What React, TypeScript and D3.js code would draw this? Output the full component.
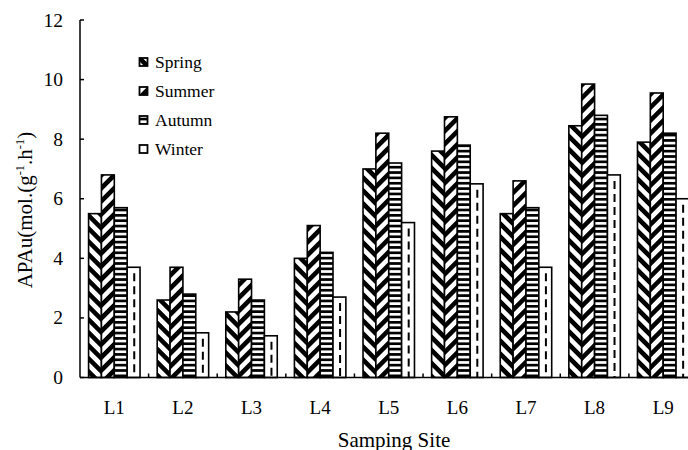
import React from "react";
import * as d3 from "d3";

const sites = ["L1", "L2", "L3", "L4", "L5", "L6", "L7", "L8", "L9"];
const seasons = ["Spring", "Summer", "Autumn", "Winter"];
const spring = [5.5, 2.6, 2.2, 4.0, 7.0, 7.6, 5.5, 8.45, 7.9];
const summer = [6.8, 3.7, 3.3, 5.1, 8.2, 8.75, 6.6, 9.85, 9.55];
const autumn = [5.7, 2.8, 2.6, 4.2, 7.2, 7.8, 5.7, 8.8, 8.2];
const winter = [3.7, 1.5, 1.4, 2.7, 5.2, 6.5, 3.7, 6.8, 6.0];
const yTicks = [0, 2, 4, 6, 8, 10, 12];

const seriesValues = [spring, summer, autumn, winter];
const fills = ["url(#pSpring)", "url(#pSummer)", "url(#pAutumn)", "#fff"];

export default function App() {
  const W = 688, H = 450;
  const x0 = 80, x1 = 697.5, yTop = 20, yBot = 377.5;
  const x = d3.scaleBand<string>().domain(sites).range([x0, x1]).paddingInner(0.25).paddingOuter(0.125);
  const xs = d3.scaleBand<string>().domain(seasons).range([0, x.bandwidth()]);
  const y = d3.scaleLinear().domain([0, 12]).range([yBot, yTop]);
  const step = x.step();
  const font = "'Liberation Serif', 'Times New Roman', serif";
  const ts: React.CSSProperties = { fontFamily: font };

  return (
    <svg width={W} height={H} style={{ position: "absolute", left: 0, top: 0, background: "#fff", fontFamily: font }}>
      <defs>
        <pattern id="pSpring" patternUnits="userSpaceOnUse" width={9.2} height={9.2} patternTransform="rotate(-45)">
          <rect x={0} y={0} width={4.6} height={9.2} fill="#000" />
        </pattern>
        <pattern id="pSummer" patternUnits="userSpaceOnUse" width={9.2} height={9.2} patternTransform="rotate(45)">
          <rect x={0} y={0} width={4.6} height={9.2} fill="#000" />
        </pattern>
        <pattern id="pAutumn" patternUnits="userSpaceOnUse" width={6} height={5.35}>
          <rect x={0} y={0} width={6} height={2.7} fill="#000" />
        </pattern>
      </defs>
      <rect x={0} y={0} width={W} height={H} fill="#fff" />
      {seriesValues.map((vals, si) =>
        sites.map((s, i) => {
          const bx = (x(s) as number) + (xs(seasons[si]) as number);
          const bw = xs.bandwidth();
          const by = y(vals[i]);
          const bh = yBot - by;
          return (
            <g key={`${si}-${i}`}>
              <rect x={bx} y={by} width={bw} height={bh} fill="#fff" />
              <rect x={bx} y={by} width={bw} height={bh} fill={fills[si]} stroke="#000" strokeWidth={1.6} />
              {si === 3 && (
                <line x1={bx + bw * 0.55} x2={bx + bw * 0.55} y1={by + 6} y2={yBot} stroke="#000" strokeWidth={2} strokeDasharray="8,5" />
              )}
            </g>
          );
        })
      )}
      <line x1={x0} x2={x0} y1={yTop} y2={yBot} stroke="#000" strokeWidth={1.5} />
      <line x1={x0} x2={x1} y1={yBot} y2={yBot} stroke="#000" strokeWidth={1.5} />
      {yTicks.map((t) => (
        <g key={t}>
          <line x1={x0} x2={x0 + 4} y1={y(t)} y2={y(t)} stroke="#000" strokeWidth={1.5} />
          <text style={ts} x={63} y={y(t) + 6.5} textAnchor="end" fontSize={19.5} fill="#000">{t}</text>
        </g>
      ))}
      {sites.map((s, i) => (
        <g key={s}>
          {i > 0 && <line x1={x0 + i * step} x2={x0 + i * step} y1={yBot} y2={yBot - 4} stroke="#000" strokeWidth={1.5} />}
          <text style={ts} x={(x(s) as number) + x.bandwidth() / 2} y={413.5} textAnchor="middle" fontSize={19} fill="#000">{s}</text>
        </g>
      ))}
      <text style={ts} x={394} y={446.5} textAnchor="middle" fontSize={21} fill="#000">Samping Site</text>
      <text style={ts} transform={`translate(31.5,210) rotate(-90)`} textAnchor="middle" fontSize={21} fill="#000">
        APAu(mol.(g<tspan fontSize={12.5} dy={-8}>-1</tspan><tspan dy={8}>.h</tspan><tspan fontSize={12.5} dy={-8}>-1</tspan><tspan dy={8}>)</tspan>
      </text>
      {seasons.map((s, i) => {
        const ly = 58 + i * 29;
        return (
          <g key={s}>
            <rect x={139.5} y={ly} width={8} height={8} fill="#fff" />
            <rect x={139.5} y={ly} width={8} height={8} fill={fills[i]} stroke="#000" strokeWidth={1.8} />
            <text style={ts} x={155} y={ly + 10.3} fontSize={17.5} fill="#000">{s}</text>
          </g>
        );
      })}
    </svg>
  );
}
